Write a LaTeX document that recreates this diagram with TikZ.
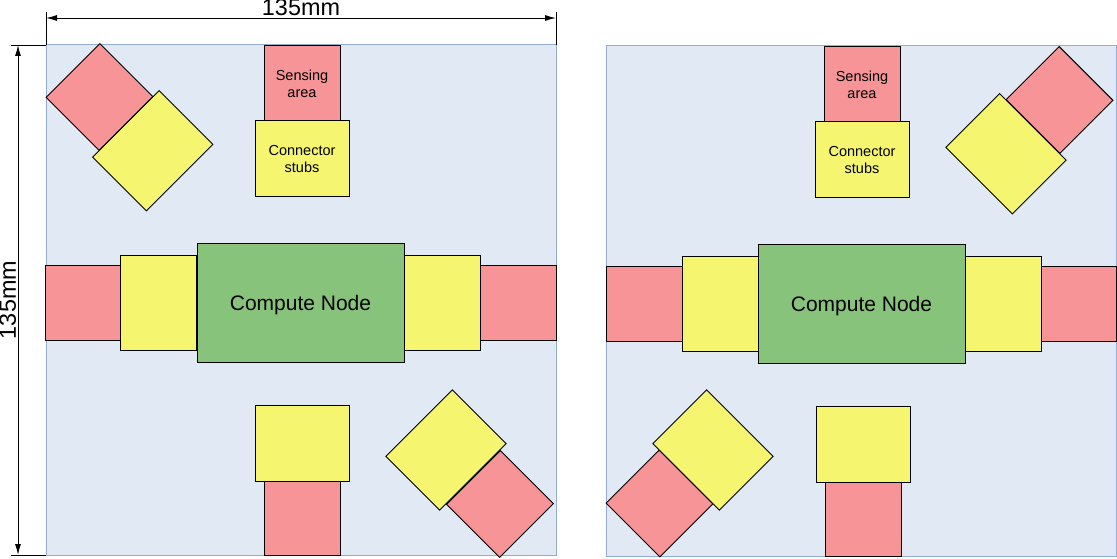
\documentclass[tikz,border=0pt]{standalone}
\usepackage{fontspec}
\setmainfont{Liberation Sans}
\usetikzlibrary{arrows.meta}
\definecolor{cred}{HTML}{F69497}
\definecolor{cyel}{HTML}{F5F56F}
\definecolor{cgrn}{HTML}{88C37B}
\definecolor{cbg}{HTML}{E1E9F5}
\definecolor{cbd}{HTML}{94AED3}
\tikzset{
  box/.style={draw=black, line width=1pt, inner sep=0pt, outer sep=0pt, align=center,
    font=\fontsize{14.5}{17}\selectfont},
  sense/.style={box, fill=cred},
  stub/.style={box, fill=cyel},
  comp/.style={box, fill=cgrn, minimum width=207pt, minimum height=118pt, text depth=0pt, font=\fontsize{21}{24}\selectfont},
  panel/.style={fill=cbg, draw=cbd, line width=1pt},
  dimline/.style={line width=0.9pt, {Latex[length=11pt,width=6pt]}-{Latex[length=11pt,width=6pt]}},
  extline/.style={line width=0.9pt},
  dimtext/.style={font=\fontsize{23.4}{26}\selectfont, inner sep=0pt, anchor=base}
}
\begin{document}
\begin{tikzpicture}[x=1pt,y=1pt]
\useasboundingbox (0,0) rectangle (1117,558);
% panels
\draw[panel] (46,3) rectangle (556,513);
\draw[panel] (606,2) rectangle (1116,512);

% ---- left panel ----
\node[sense, minimum width=76pt, minimum height=75pt] (ls1) at (302,474.5) {Sensing\\area};
\node[stub, minimum width=94pt, minimum height=76pt] (lc1) at (302,399) {Connector\\stubs};
\node[sense, minimum width=75pt, minimum height=75pt] (ls2) at (83,255.5) {};
\node[stub, minimum width=76pt, minimum height=95pt] (lc2) at (158.5,255.5) {};
\node[comp] (lcomp) at (300.5,255) {Compute Node};
\node[stub, minimum width=76pt, minimum height=95pt] (lc3) at (442,255.5) {};
\node[sense, minimum width=76pt, minimum height=75pt] (ls3) at (518,255.5) {};
\node[sense, minimum width=76pt, minimum height=74pt] (ls4) at (302,40) {};
\node[stub, minimum width=94pt, minimum height=76pt] (lc4) at (302,115) {};
\node[sense, minimum width=76pt, minimum height=75pt, rotate=45] (ls5) at (99.5,461) {};
\node[stub, minimum width=94pt, minimum height=76pt, rotate=45] (lc5) at (152.75,407.25) {};
\node[sense, minimum width=76pt, minimum height=75pt, rotate=45] (ls6) at (500,54) {};
\node[stub, minimum width=94pt, minimum height=76pt, rotate=45] (lc6) at (446,108) {};

% ---- right panel ----
\node[sense, minimum width=76pt, minimum height=75pt] (rs1) at (862,473.5) {Sensing\\area};
\node[stub, minimum width=94pt, minimum height=76pt] (rc1) at (862,398) {Connector\\stubs};
\node[sense, minimum width=76pt, minimum height=75pt] (rs2) at (644,254.5) {};
\node[stub, minimum width=76pt, minimum height=95pt] (rc2) at (720,254.5) {};
\node[comp] (rcomp) at (861.5,254) {Compute Node};
\node[stub, minimum width=76pt, minimum height=95pt] (rc3) at (1003,254.5) {};
\node[sense, minimum width=75pt, minimum height=75pt] (rs3) at (1078.5,254.5) {};
\node[sense, minimum width=76pt, minimum height=74pt] (rs4) at (863,39) {};
\node[stub, minimum width=94pt, minimum height=76pt] (rc4) at (863,114) {};
\node[sense, minimum width=76pt, minimum height=75pt, rotate=-45] (rs5) at (1059.5,458) {};
\node[stub, minimum width=94pt, minimum height=76pt, rotate=-45] (rc5) at (1006,404.25) {};
\node[sense, minimum width=76pt, minimum height=75pt, rotate=-45] (rs6) at (659.5,54.5) {};
\node[stub, minimum width=94pt, minimum height=76pt, rotate=-45] (rc6) at (713,108) {};

% ---- dimensions ----
\coordinate (ht1) at (46,546);
\coordinate (hb1) at (46,513);
\coordinate (ht2) at (556,546);
\coordinate (hb2) at (556,513);
\coordinate (ha1) at (46,540);
\coordinate (ha2) at (556,540);
\draw[extline] (ht1) -- (hb1);
\draw[extline] (ht2) -- (hb2);
\draw[dimline] (ha1) -- (ha2);
\node[dimtext] (htext) at (301,542.3) {135mm};

\coordinate (vl1) at (11,513);
\coordinate (vr1) at (46,513);
\coordinate (vl2) at (11,3);
\coordinate (vr2) at (46,3);
\coordinate (va1) at (18,513);
\coordinate (va2) at (18,3);
\draw[extline] (vl1) -- (vr1);
\draw[extline] (vl2) -- (vr2);
\draw[dimline] (va1) -- (va2);
\node[dimtext, rotate=90] (vtext) at (16,258) {135mm};
\end{tikzpicture}
\end{document}
